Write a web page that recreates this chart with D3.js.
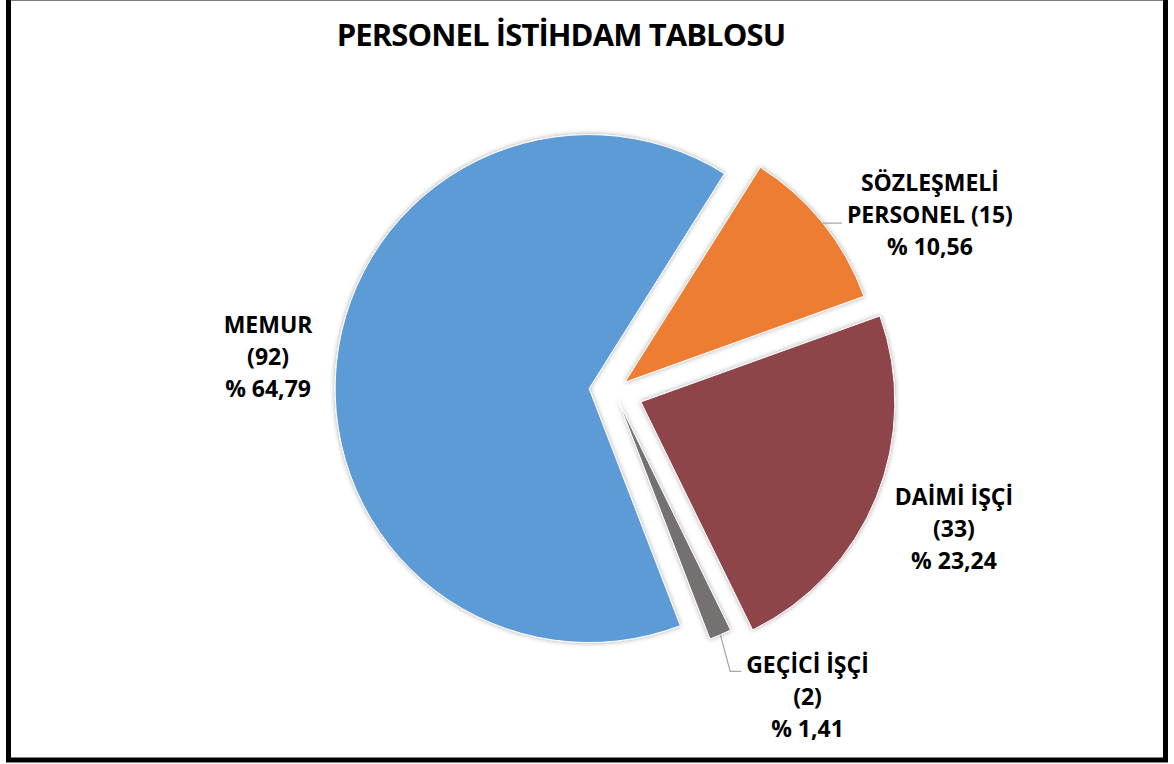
<!DOCTYPE html>
<html>
<head>
<meta charset="utf-8">
<title>Personel İstihdam Tablosu</title>
<script src="https://cdn.jsdelivr.net/npm/d3@7"></script>
<style>
    body { margin: 0; background: #fff; }
    text { font-family: "Open Sans", "DejaVu Sans", sans-serif; font-weight: bold; fill: #000; }
</style>
</head>
<body>
<div id="chart"></div>
<script>
// chart data
var title = "PERSONEL İSTİHDAM TABLOSU";
var categories = ["MEMUR", "SÖZLEŞMELİ PERSONEL", "DAİMİ İŞÇİ", "GEÇİCİ İŞÇİ"];
var categoryLines = [["MEMUR"], ["SÖZLEŞMELİ", "PERSONEL"], ["DAİMİ İŞÇİ"], ["GEÇİCİ İŞÇİ"]];
var counts = [92, 15, 33, 2];

// styling
var colors = ["#5B9BD5", "#ED7D31", "#8E4449", "#767171"];
var explode = [25, 14, 29, 12];
var labelPlace = [
    { k: 1.27, shift: 0, leader: "none" },
    { k: 1.37, shift: 10, leader: "straight" },
    { k: 1.33, shift: 0, leader: "none" },
    { k: 1.38, shift: -9, leader: "elbow" }
];

var svgWidth = 1174;
var svgHeight = 764;
var radius = 254;
var center = { x: 614, y: 391 };
var firstAngle = 158.96 * Math.PI / 180;
var lineHeight = 32;

var svg = d3.select("#chart")
    .append("svg")
    .attr("width", svgWidth)
    .attr("height", svgHeight);

// soft shadow round the slices
var defs = svg.append("defs");
defs.append("filter")
    .attr("id", "shadow")
    .attr("x", "-20%").attr("y", "-20%")
    .attr("width", "140%").attr("height", "140%")
    .append("feDropShadow")
    .attr("dx", 0)
    .attr("dy", 0)
    .attr("stdDeviation", 2.5)
    .attr("flood-color", "#000")
    .attr("flood-opacity", 0.35);

svg.append("rect")
    .attr("width", svgWidth)
    .attr("height", svgHeight)
    .attr("fill", "#fff");

// title
svg.append("text")
    .attr("x", 561)
    .attr("y", 46)
    .attr("text-anchor", "middle")
    .style("font-size", "31px")
    .style("letter-spacing", "-0.9px")
    .text(title);

var total = d3.sum(counts);
var data = categories.map(function(c, i) {
    return { name: c, lines: categoryLines[i], value: counts[i], i: i };
});

var pie = d3.pie()
    .sort(null)
    .value(d => d.value)
    .startAngle(firstAngle)
    .endAngle(firstAngle + 2 * Math.PI);

var arc = d3.arc()
    .innerRadius(0)
    .outerRadius(radius);

var arcs = pie(data);

function midAngle(d) {
    return (d.startAngle + d.endAngle) / 2;
}

function polar(a, r) {
    return [Math.sin(a) * r, -Math.cos(a) * r];
}

// slice centre after exploding
function sliceCenter(d) {
    var o = polar(midAngle(d), explode[d.data.i]);
    return [center.x + o[0], center.y + o[1]];
}

var chartGroup = svg.append("g");

chartGroup.selectAll("path.slice")
    .data(arcs)
    .enter()
    .append("path")
    .attr("class", "slice")
    .attr("transform", d => `translate(${sliceCenter(d)[0]}, ${sliceCenter(d)[1]})`)
    .attr("d", arc)
    .attr("fill", d => colors[d.data.i])
    .attr("stroke", "#fff")
    .attr("stroke-width", 1)
    .attr("filter", "url(#shadow)");

// percentage with comma decimal
function pctText(v) {
    return "% " + (v / total * 100).toFixed(2).replace(".", ",");
}

function labelLines(d) {
    var lines = d.data.lines.slice();
    var cnt = "(" + d.data.value + ")";
    if (lines.length > 1) {
        lines[lines.length - 1] += " " + cnt;
    } else {
        lines.push(cnt);
    }
    lines.push(pctText(d.data.value));
    return lines;
}

var labelGroup = svg.append("g");

arcs.forEach(function(d) {
    var p = labelPlace[d.data.i];
    var sc = sliceCenter(d);
    var a = midAngle(d) + p.shift * Math.PI / 180;
    var pos = polar(a, radius * p.k);
    var lx = sc[0] + pos[0];
    var ly = sc[1] + pos[1];
    var lines = labelLines(d);

    var g = labelGroup.append("g");
    var txt = g.append("text")
        .attr("text-anchor", "middle")
        .style("font-size", "23px");

    lines.forEach(function(t, j) {
        txt.append("tspan")
            .attr("x", lx)
            .attr("y", ly + 8 + (j - (lines.length - 1) / 2) * lineHeight)
            .text(t);
    });

    if (p.leader === "none") return;

    var box = txt.node().getBBox();
    var start = polar(midAngle(d), radius);
    var sx = sc[0] + start[0];
    var sy = sc[1] + start[1];
    var firstBase = ly + 8 - (lines.length - 1) / 2 * lineHeight;
    var pts;
    if (p.leader === "straight") {
        pts = [[sx, sy], [box.x - 5, sy]];
    } else {
        pts = [[sx, sy], [box.x - 16, firstBase - 2], [box.x - 5, firstBase - 2]];
    }
    g.append("path")
        .attr("d", d3.line()(pts))
        .attr("fill", "none")
        .attr("stroke", "#A6A6A6")
        .attr("stroke-width", 1.25);
});

// outer frame
svg.append("rect")
    .attr("x", 8.5)
    .attr("y", -2)
    .attr("width", 1157)
    .attr("height", 762)
    .attr("fill", "none")
    .attr("stroke", "#000")
    .attr("stroke-width", 5);
</script>
</body>
</html>
